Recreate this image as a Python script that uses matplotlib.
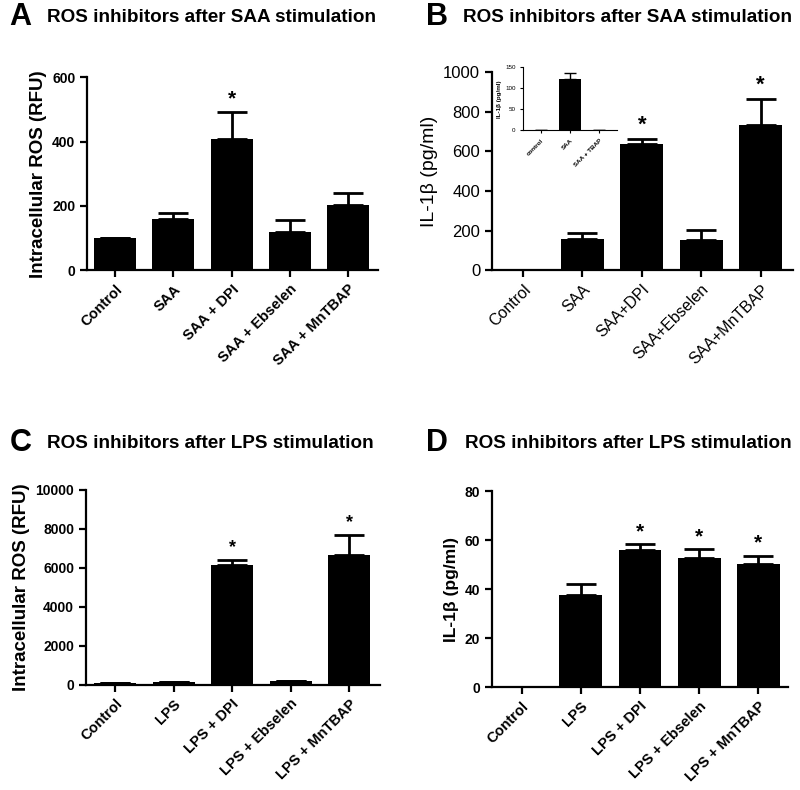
import matplotlib
matplotlib.use("Agg")
import matplotlib.pyplot as plt
import numpy as np

plt.rcParams['font.family'] = ['Liberation Sans', 'DejaVu Sans']

# panel A - ROS after SAA
a_labels = ["Control", "SAA", "SAA + DPI", "SAA + Ebselen", "SAA + MnTBAP"]
a_vals = [100, 158, 408, 118, 202]
a_err = [0, 20, 84, 37, 38]
a_star = [False, False, True, False, False]

# panel B - IL-1b after SAA
b_labels = ["Control", "SAA", "SAA+DPI", "SAA+Ebselen", "SAA+MnTBAP"]
b_vals = [0, 155, 635, 150, 730]
b_err = [0, 33, 28, 53, 135]
b_star = [False, False, True, False, True]

# inset of B
ins_labels = ["control", "SAA", "SAA + TBAP"]
ins_vals = [0, 122, 0]
ins_err = [0, 15, 0]

# panel C - ROS after LPS
c_labels = ["Control", "LPS", "LPS + DPI", "LPS + Ebselen", "LPS + MnTBAP"]
c_vals = [80, 130, 6150, 200, 6650]
c_err = [0, 0, 230, 0, 1030]
c_star = [False, False, True, False, True]

# panel D - IL-1b after LPS
d_labels = ["Control", "LPS", "LPS + DPI", "LPS + Ebselen", "LPS + MnTBAP"]
d_vals = [0, 37.5, 56, 53, 50.5]
d_err = [0, 4.5, 2.6, 3.4, 3.3]
d_star = [False, False, True, True, True]


def bar_panel(ax, labels, vals, err, stars, ylim, yticks, ylabel, bold=True,
              fs_tick=10, fs_xtick=10, fs_lab=13.5, star_off=6, star_fs=14):
    w = 'bold' if bold else 'normal'
    x = np.arange(len(vals))
    ax.bar(x, vals, width=0.72, color='black', zorder=2)
    ax.errorbar(x, vals, yerr=[np.zeros(len(err)), err], fmt='none',
                ecolor='black', elinewidth=2, capsize=11, capthick=2, zorder=1)
    for xi, v, e, s in zip(x, vals, err, stars):
        if s:
            ax.annotate('*', (xi, v + e), xytext=(0, star_off), textcoords='offset points',
                        ha='center', va='bottom', fontsize=star_fs, fontweight='bold')
    ax.set_ylim(*ylim)
    ax.set_yticks(yticks)
    ax.set_xticks(x)
    ax.set_xticklabels(labels, rotation=45, ha='right', rotation_mode='anchor',
                       fontsize=fs_xtick, fontweight=w)
    for t in ax.get_yticklabels():
        t.set_fontsize(fs_tick)
        t.set_fontweight(w)
    ax.set_ylabel(ylabel, fontsize=fs_lab, fontweight=w)
    ax.spines['top'].set_visible(False)
    ax.spines['right'].set_visible(False)
    ax.spines['left'].set_linewidth(1.6)
    ax.spines['bottom'].set_linewidth(1.6)
    ax.tick_params(width=1.6, length=5, direction='out')


fig = plt.figure(figsize=(8, 7.9), dpi=100)

axA = fig.add_axes([0.109, 0.658, 0.364, 0.244])
bar_panel(axA, a_labels, a_vals, a_err, a_star, (0, 600), [0, 200, 400, 600],
          "Intracellular ROS (RFU)", fs_xtick=10.5, star_off=3, star_fs=15)
axA.set_xlim(-0.48, 4.52)

axB = fig.add_axes([0.615, 0.658, 0.376, 0.251])
bar_panel(axB, b_labels, b_vals, b_err, b_star, (0, 1000), [0, 200, 400, 600, 800, 1000],
          "IL-1\u03b2 (pg/ml)", bold=False, fs_tick=12, fs_xtick=11.5, fs_lab=14,
          star_off=2, star_fs=16)
axB.set_xlim(-0.52, 4.54)

axI = fig.add_axes([0.654, 0.835, 0.117, 0.08])
xi = np.arange(len(ins_vals))
axI.bar(xi, ins_vals, width=0.72, color='black', zorder=2)
axI.errorbar(xi, ins_vals, yerr=[np.zeros(3), ins_err], fmt='none', ecolor='black',
             elinewidth=1, capsize=4, capthick=1, zorder=1)
axI.set_ylim(0, 150)
axI.set_yticks([0, 50, 100, 150])
axI.set_xlim(-0.6, 2.6)
axI.set_xticks(xi)
axI.set_xticklabels(ins_labels, rotation=45, ha='right', rotation_mode='anchor',
                    fontsize=4.5, fontweight='bold')
axI.tick_params(labelsize=4.5, width=0.8, length=2)
axI.set_ylabel("IL-1\u03b2 (pg/ml)", fontsize=4.5, fontweight='bold', labelpad=2)
axI.spines['top'].set_visible(False)
axI.spines['right'].set_visible(False)

axC = fig.add_axes([0.1075, 0.133, 0.3675, 0.247])
bar_panel(axC, c_labels, c_vals, c_err, c_star, (0, 10000),
          [0, 2000, 4000, 6000, 8000, 10000], "Intracellular ROS (RFU)",
          fs_xtick=10.5, star_off=3, star_fs=13)
axC.set_xlim(-0.5, 4.53)

axD = fig.add_axes([0.615, 0.130, 0.37, 0.248])
bar_panel(axD, d_labels, d_vals, d_err, d_star, (0, 80), [0, 20, 40, 60, 80],
          "IL-1\u03b2 (pg/ml)", fs_xtick=10.5, fs_lab=12.5, star_off=2, star_fs=15)
axD.set_xlim(-0.5, 4.5)

# panel letters and titles
for lx, tx, y, letter, title in [(0.012, 0.059, 0.978, "A", "ROS inhibitors after SAA stimulation"),
                                (0.532, 0.579, 0.978, "B", "ROS inhibitors after SAA stimulation"),
                                (0.012, 0.059, 0.439, "C", "ROS inhibitors after LPS stimulation"),
                                (0.532, 0.581, 0.439, "D", "ROS inhibitors after LPS stimulation")]:
    fig.text(lx, y, letter, fontsize=22, fontweight='bold', va='center', ha='left')
    fig.text(tx, y, title, fontsize=13.6, fontweight='bold', va='center', ha='left')

fig.savefig("out.png", dpi=100)
